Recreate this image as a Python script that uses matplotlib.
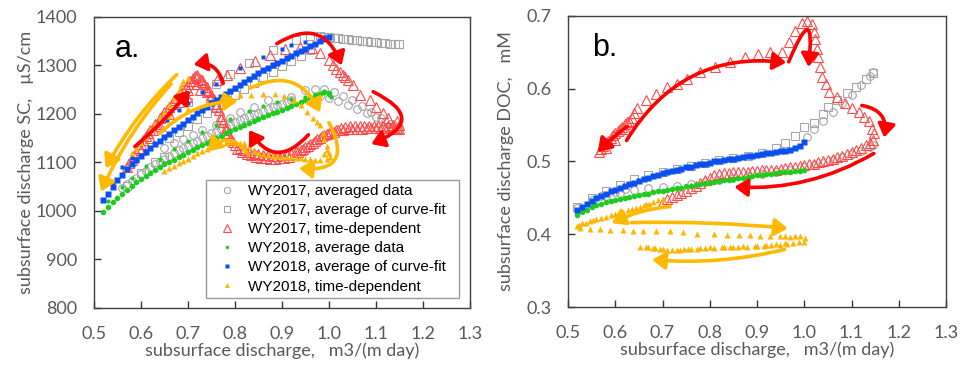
"""
Hysteresis of subsurface discharge vs SC (a) and DOC (b), WY2017 / WY2018.
"""
import matplotlib
matplotlib.use("Agg")
import matplotlib.pyplot as plt
from matplotlib.patches import FancyArrowPatch
from matplotlib.lines import Line2D

matplotlib.rcParams.update({
    "font.family": ["Lato", "DejaVu Sans"],
    "font.size": 12,
})

TXT = "#595959"
C_GRAY = "#A6A6A6"
C_RED = "#FF4B4B"
C_GREEN = "#1ECC1E"
C_BLUE = "#0A50F0"
C_ORANGE = "#FFB400"
A_RED = "#FF0000"
A_ORANGE = "#FFB900"

# ---------------------------------------------------------------------------
# Panel a data : discharge (m3/(m day)) vs SC (uS/cm)
# ---------------------------------------------------------------------------
a_q_grid = [0.52, 0.53, 0.54, 0.55, 0.56, 0.57, 0.58, 0.59, 0.60, 0.61, 0.62,
            0.63, 0.64, 0.65, 0.66, 0.67, 0.68, 0.69, 0.70, 0.71, 0.72, 0.73,
            0.74, 0.75, 0.76, 0.77, 0.78, 0.79, 0.80, 0.81, 0.82, 0.83, 0.84,
            0.85, 0.86, 0.87, 0.88, 0.89, 0.90, 0.91, 0.92, 0.93, 0.94, 0.95,
            0.96, 0.97, 0.98, 0.99, 1.00]

# WY2018 average data (green)
a_green_dense = [998, 1008, 1018, 1027, 1036, 1044, 1052, 1059, 1066, 1072, 1078,
                 1084, 1090, 1096, 1101, 1106, 1111, 1116, 1121, 1126, 1131, 1136,
                 1141, 1146, 1151, 1155, 1160, 1164, 1169, 1173, 1177, 1181, 1185,
                 1189, 1193, 1197, 1201, 1205, 1209, 1213, 1217, 1221, 1225, 1229,
                 1233, 1237, 1241, 1245, 1244]
a_green_sp_q = [0.53, 0.56, 0.58, 0.61, 0.64, 0.67, 0.70, 0.73, 0.76, 0.79, 0.83,
                0.86, 0.89, 0.92, 0.95, 0.97, 0.99, 1.0, 1.005]
a_green_sp_sc = [1020, 1050, 1068, 1092, 1108, 1128, 1145, 1162, 1178, 1190, 1206,
                 1216, 1224, 1230, 1236, 1242, 1248, 1240, 1236]

# WY2018 average of curve-fit (blue)
a_blue_dense = [1022, 1036, 1050, 1063, 1075, 1086, 1096, 1105, 1114, 1122, 1130,
                1138, 1145, 1152, 1159, 1166, 1173, 1180, 1187, 1194, 1201, 1208,
                1215, 1222, 1229, 1236, 1242, 1248, 1254, 1260, 1266, 1272, 1278,
                1284, 1290, 1295, 1300, 1305, 1310, 1315, 1320, 1325, 1330, 1335,
                1340, 1345, 1350, 1355, 1358]
a_blue_sp_q = [0.54, 0.56, 0.58, 0.60, 0.62, 0.655, 0.68, 0.70, 0.73, 0.76, 0.81,
               0.86, 0.90, 0.92, 0.95, 0.99]
a_blue_sp_sc = [1058, 1091, 1110, 1138, 1160, 1188, 1208, 1222, 1245, 1262, 1294,
                1318, 1335, 1342, 1348, 1358]

# WY2017 averaged data (gray circles)
a_circ_q = [0.56, 0.58, 0.60, 0.62, 0.64, 0.66, 0.68, 0.70, 0.72, 0.74, 0.76,
            0.78, 0.80, 0.82, 0.84, 0.86, 0.88, 0.90, 0.92,
            0.57, 0.59, 0.61, 0.63, 0.65, 0.67, 0.69, 0.71, 0.73, 0.75, 0.77,
            0.79, 0.81, 0.83, 0.85, 0.87, 0.89, 0.91,
            0.65, 0.67, 0.69, 0.71, 0.73, 0.76, 0.79, 0.81, 0.84, 0.87, 0.92,
            0.95, 0.97,
            0.99, 1.01, 1.03, 1.05, 1.07, 1.09, 1.11, 1.13, 1.15,
            0.98, 1.00, 1.02, 1.04, 1.06, 1.08, 1.10, 1.12, 1.14]
a_circ_sc = [1048, 1062, 1076, 1090, 1102, 1114, 1125, 1135, 1145, 1155, 1165,
             1174, 1183, 1191, 1199, 1207, 1214, 1221, 1228,
             1055, 1069, 1083, 1096, 1108, 1119, 1130, 1140, 1150, 1160, 1170,
             1178, 1187, 1195, 1203, 1211, 1218, 1224,
             1130, 1140, 1148, 1157, 1166, 1178, 1192, 1205, 1215, 1229, 1236,
             1250, 1252,
             1252, 1246, 1238, 1228, 1216, 1204, 1192, 1180, 1172,
             1238, 1232, 1226, 1218, 1210, 1202, 1193, 1184, 1176]

# WY2017 average of curve-fit (gray squares)
a_sq_q = [0.57, 0.60, 0.63, 0.65,
          0.66, 0.68, 0.70, 0.72, 0.74, 0.76, 0.78, 0.80, 0.82, 0.84, 0.86,
          0.88, 0.90, 0.92, 0.94, 0.96,
          0.70, 0.76, 0.79, 0.83, 0.88, 0.93, 0.96, 0.98,
          0.99, 1.00, 1.01, 1.02, 1.03, 1.04, 1.05, 1.06, 1.07, 1.08, 1.09,
          1.10, 1.11, 1.12, 1.13, 1.14, 1.15]
a_sq_sc = [1052, 1078, 1100, 1112,
           1150, 1163, 1176, 1189, 1202, 1215, 1228, 1240, 1252, 1264, 1276,
           1287, 1298, 1309, 1320, 1332,
           1225, 1262, 1282, 1305, 1332, 1352, 1360, 1360,
           1359, 1358, 1357, 1356, 1355, 1354, 1353, 1352, 1351, 1350, 1349,
           1348, 1347, 1346, 1345, 1345, 1344]

# WY2017 time-dependent (red triangles)
a_red_q = [0.57, 0.575, 0.58, 0.585, 0.59, 0.595, 0.60, 0.605, 0.61, 0.615, 0.62,
           0.63, 0.64, 0.65, 0.66, 0.67, 0.68, 0.69, 0.70, 0.705, 0.71, 0.715,
           0.72, 0.725, 0.73, 0.735, 0.74, 0.745, 0.75, 0.755, 0.76, 0.765,
           0.77, 0.775, 0.78, 0.785, 0.79, 0.795, 0.80, 0.81, 0.82, 0.83, 0.84,
           0.85, 0.86, 0.87, 0.88, 0.89, 0.90, 0.91, 0.92, 0.93, 0.94, 0.95,
           0.96, 0.97, 0.98, 0.99, 1.00, 1.01, 1.02, 1.03, 1.04, 1.05, 1.06,
           1.07, 1.08, 1.09, 1.10, 1.11, 1.12, 1.13, 1.14, 1.15, 1.15,
           0.60, 0.62, 0.64, 0.66, 0.68, 0.70, 0.72, 0.74,
           0.625, 0.635, 0.645, 0.655, 0.665, 0.675, 0.685, 0.695, 0.71, 0.72,
           0.73, 0.74, 0.75, 0.76, 0.77, 0.78, 0.79, 0.805, 0.815, 0.825, 0.835,
           0.845, 0.855, 0.865, 0.875, 0.885, 0.895, 0.905, 0.915, 0.925,
           0.935, 0.945, 0.955, 0.965, 0.975, 0.985, 0.995, 1.005, 1.015,
           1.025, 1.035, 1.045, 1.055, 1.065, 1.075, 1.085, 1.095, 1.105,
           1.115, 1.125, 1.135, 1.145,
           1.145, 1.137, 1.126, 1.116, 1.101, 1.087, 1.066, 1.052, 1.041, 1.035,
           1.03, 1.023, 1.016, 1.009, 0.999, 0.981, 0.963, 0.938, 0.906, 0.874,
           0.843, 0.81, 0.782, 0.761, 0.725, 0.697]
a_red_sc = [1090, 1098, 1106, 1114, 1122, 1130, 1138, 1146, 1154, 1160, 1168,
            1180, 1192, 1205, 1215, 1228, 1240, 1250, 1262, 1268, 1274, 1278,
            1276, 1272, 1270, 1262, 1255, 1248, 1240, 1230, 1220, 1208,
            1196, 1184, 1172, 1160, 1150, 1142, 1136, 1130, 1126, 1122, 1120,
            1118, 1116, 1115, 1114, 1114, 1115, 1116, 1118, 1121, 1126, 1131,
            1138, 1145, 1151, 1156, 1160, 1163, 1166, 1168, 1169, 1170, 1170,
            1170, 1171, 1171, 1172, 1172, 1172, 1171, 1170, 1170, 1178,
            1125, 1150, 1175, 1200, 1225, 1250, 1262, 1245,
            1168, 1180, 1194, 1208, 1220, 1232, 1244, 1256, 1268, 1280,
            1265, 1250, 1234, 1214, 1190, 1166, 1146, 1128, 1122, 1118, 1116,
            1112, 1110, 1109, 1108, 1108, 1109, 1110, 1112, 1116,
            1121, 1127, 1134, 1141, 1148, 1154, 1159, 1165, 1168,
            1172, 1174, 1175, 1175, 1176, 1176, 1176, 1176, 1176,
            1175, 1175, 1174, 1172,
            1186, 1177, 1191, 1201, 1215, 1229, 1239, 1260, 1270, 1276,
            1280, 1287, 1292, 1301, 1311, 1325, 1336, 1338, 1333, 1321,
            1309, 1294, 1280, 1271, 1249, 1236]

# WY2018 time-dependent (orange triangles)
a_org_q = [0.58, 0.59, 0.60, 0.61, 0.62, 0.63, 0.64, 0.65, 0.66, 0.67, 0.68,
           0.685, 0.69, 0.70,
           0.62, 0.66, 0.70, 0.74, 0.77, 0.81, 0.835, 0.86, 0.885, 0.905, 0.925,
           0.94, 0.953, 0.966, 0.975, 0.981, 0.987, 0.99, 0.995, 1.0, 1.002,
           0.995, 0.98, 0.96, 0.94, 0.92, 0.90, 0.88, 0.86, 0.84, 0.83, 0.82,
           0.80, 0.78, 0.76, 0.74, 0.72, 0.70, 0.68, 0.66, 0.65, 0.99, 0.995,
           0.97, 0.95, 0.93, 0.91, 0.89, 0.87, 0.85, 0.81, 0.79, 0.77, 0.75,
           0.73, 0.71, 0.69, 0.67]
a_org_sc = [1119, 1130, 1140, 1152, 1165, 1180, 1193, 1205, 1218, 1233, 1250,
            1260, 1268, 1275,
            1170, 1195, 1210, 1222, 1230, 1239, 1240, 1241, 1241, 1237, 1228,
            1219, 1205, 1191, 1183, 1177, 1160, 1148, 1133, 1120, 1112,
            1108, 1106, 1107, 1109, 1111, 1112, 1114, 1117, 1124, 1135, 1140,
            1142, 1141, 1136, 1128, 1120, 1108, 1098, 1088, 1082, 1118, 1125,
            1106, 1108, 1110, 1111, 1113, 1115, 1120, 1141, 1142, 1139, 1133,
            1124, 1114, 1103, 1093]

# arrows: x1, y1, x2, y2, connection style
a_red_arrows = [
    (0.775, 1263, 0.712, 1302, "arc3,rad=0.45"),
    (0.587, 1133, 0.704, 1249, "arc3,rad=0.05"),
    (0.889, 1345, 1.027, 1300, "arc3,rad=-0.6"),
    (1.094, 1246, 1.090, 1138, "arc3,rad=-1.1"),
    (0.956, 1157, 0.830, 1167, "arc3,rad=-0.65"),
]
a_org_arrows = [
    (0.676, 1281, 0.525, 1088, "arc3,rad=0.08"),
    (0.664, 1262, 0.515, 1040, "arc3,rad=0.08"),
    (0.640, 1160, 0.806, 1226, "arc3,rad=-0.2"),
    (0.832, 1253, 0.981, 1203, "arc3,rad=-0.5"),
    (1.000, 1182, 0.936, 1088, "arc3,rad=-0.9"),
    (0.828, 1116, 0.742, 1123, "arc3,rad=0.6"),
]

# ---------------------------------------------------------------------------
# Panel b data : discharge vs DOC (mM)
# ---------------------------------------------------------------------------
b_green_doc = [0.427, 0.431, 0.434, 0.437, 0.440, 0.442, 0.444, 0.446, 0.447,
               0.449, 0.450, 0.451, 0.453, 0.454, 0.455, 0.456, 0.458, 0.459,
               0.460, 0.461, 0.462, 0.463, 0.464, 0.466, 0.467, 0.468, 0.469,
               0.470, 0.471, 0.472, 0.473, 0.474, 0.475, 0.476, 0.477, 0.478,
               0.479, 0.480, 0.481, 0.482, 0.483, 0.483, 0.484, 0.485, 0.486,
               0.486, 0.487, 0.487, 0.488]
b_blue_doc = [0.433, 0.438, 0.442, 0.446, 0.450, 0.453, 0.456, 0.459, 0.461,
              0.464, 0.466, 0.469, 0.471, 0.473, 0.476, 0.478, 0.480, 0.482,
              0.484, 0.486, 0.487, 0.489, 0.490, 0.492, 0.493, 0.495, 0.496,
              0.497, 0.498, 0.500, 0.501, 0.502, 0.503, 0.504, 0.505, 0.506,
              0.507, 0.508, 0.509, 0.510, 0.511, 0.512, 0.513, 0.514, 0.515,
              0.516, 0.518, 0.521, 0.527]

b_circ_q = [0.52, 0.55, 0.57, 0.58, 0.60, 0.61, 0.62, 0.64, 0.67, 0.70, 0.73,
            0.76, 0.79, 0.82, 0.85, 0.88, 0.91, 0.94, 0.97, 1.00, 1.02, 1.04,
            1.06, 1.08, 1.10, 1.12, 1.14, 1.145,
            1.005, 1.02, 1.04, 1.06, 1.08, 1.10, 1.12, 1.14, 1.146]
b_circ_doc = [0.436, 0.447, 0.452, 0.452, 0.458, 0.457, 0.462, 0.461, 0.463,
              0.465, 0.467, 0.469, 0.472, 0.474, 0.477, 0.480, 0.483, 0.486,
              0.489, 0.492, 0.495, 0.498, 0.502, 0.506, 0.510, 0.515, 0.520,
              0.522,
              0.534, 0.545, 0.556, 0.568, 0.580, 0.592, 0.605, 0.618, 0.623]
b_sq_q = [0.52, 0.55, 0.58, 0.61, 0.64, 0.67, 0.70, 0.73, 0.76, 0.79, 0.82,
          0.85, 0.88, 0.91, 0.94, 0.96, 0.98, 1.00, 1.02, 1.04, 1.05, 1.07,
          1.09, 1.11, 1.13, 1.145]
b_sq_doc = [0.438, 0.450, 0.460, 0.468, 0.476, 0.482, 0.486, 0.490, 0.494,
            0.498, 0.502, 0.505, 0.508, 0.511, 0.518, 0.525, 0.535, 0.548,
            0.553, 0.565, 0.575, 0.585, 0.594, 0.603, 0.613, 0.622]

b_red_q = [0.565, 0.57, 0.575, 0.58, 0.585, 0.59, 0.595, 0.60, 0.605, 0.61,
           0.615, 0.62, 0.625, 0.63, 0.635, 0.64, 0.58, 0.60, 0.62,
           0.645, 0.666, 0.687, 0.709, 0.73, 0.751, 0.779, 0.811, 0.843, 0.875,
           0.903, 0.928, 0.953, 0.967, 0.981, 0.995, 1.006, 1.016, 1.02, 1.023,
           1.027, 1.03, 1.034, 1.037, 1.045, 1.052, 1.069, 1.087, 1.101, 1.115,
           1.126, 1.136, 1.143, 1.147, 1.145,
           1.14, 1.13, 1.12, 1.11, 1.10, 1.09, 1.08, 1.07, 1.06, 1.05, 1.04,
           1.03, 1.02, 1.01, 1.00, 0.99, 0.98, 0.97, 0.96, 0.95, 0.94, 0.93,
           0.92, 0.91, 0.90, 0.89, 0.88, 0.87, 0.86, 0.85, 0.84, 0.83, 0.82,
           0.81, 0.80, 0.79, 0.78, 0.77, 0.76, 0.75, 0.74, 0.73, 0.72, 0.71,
           0.70]
b_red_doc = [0.513, 0.517, 0.521, 0.525, 0.528, 0.532, 0.536, 0.539, 0.542,
             0.545, 0.548, 0.551, 0.554, 0.556, 0.560, 0.566, 0.519, 0.530,
             0.544,
             0.573, 0.584, 0.593, 0.602, 0.607, 0.614, 0.623, 0.630, 0.637,
             0.643, 0.648, 0.650, 0.651, 0.664, 0.680, 0.690, 0.693, 0.689,
             0.678, 0.669, 0.655, 0.644, 0.630, 0.616, 0.607, 0.596, 0.588,
             0.580, 0.574, 0.568, 0.561, 0.555, 0.545, 0.539, 0.529,
             0.525, 0.522, 0.519, 0.516, 0.513, 0.510, 0.508, 0.506, 0.504,
             0.502, 0.500, 0.499, 0.497, 0.496, 0.495, 0.494, 0.493, 0.492,
             0.491, 0.490, 0.489, 0.489, 0.488, 0.488, 0.487, 0.487, 0.486,
             0.486, 0.485, 0.485, 0.484, 0.484, 0.483, 0.481, 0.478, 0.474,
             0.470, 0.467, 0.463, 0.460, 0.457, 0.454, 0.451, 0.448, 0.445]

b_org_q = [0.518, 0.53, 0.546, 0.56, 0.581, 0.60, 0.617, 0.635, 0.652, 0.665,
           0.68, 0.69, 0.702, 0.524, 0.538, 0.553, 0.57, 0.59, 0.61, 0.626,
           0.644, 0.66, 0.672,
           0.525, 0.546, 0.567, 0.588, 0.617, 0.638, 0.659, 0.687, 0.716, 0.744,
           0.772, 0.808, 0.836, 0.861, 0.885, 0.907, 0.928, 0.949, 0.96, 0.97,
           0.98, 0.991, 1.002,
           0.999, 0.988, 0.977, 0.963, 0.949, 0.93, 0.914, 0.895, 0.878, 0.86,
           0.843, 0.825, 0.808, 0.79, 0.772, 0.755, 0.737, 0.72, 0.709, 0.695,
           0.68, 0.665, 0.652, 0.96, 0.94, 0.92, 0.90, 0.87, 0.85, 0.83, 0.80,
           0.78, 0.76, 0.745, 0.73, 0.70, 0.685, 0.67]
b_org_doc = [0.411, 0.415, 0.418, 0.421, 0.424, 0.428, 0.431, 0.435, 0.438,
             0.441, 0.445, 0.447, 0.449, 0.413, 0.416, 0.419, 0.423, 0.426,
             0.429, 0.433, 0.436, 0.440, 0.442,
             0.408, 0.407, 0.407, 0.406, 0.406, 0.405, 0.405, 0.405, 0.404,
             0.403, 0.401, 0.400, 0.399, 0.399, 0.399, 0.398, 0.397, 0.397,
             0.398, 0.396, 0.397, 0.397, 0.395,
             0.390, 0.389, 0.388, 0.387, 0.385, 0.385, 0.384, 0.384, 0.383,
             0.383, 0.382, 0.382, 0.381, 0.381, 0.380, 0.380, 0.379, 0.379,
             0.379, 0.380, 0.381, 0.382, 0.383, 0.388, 0.386, 0.385, 0.384,
             0.384, 0.383, 0.382, 0.382, 0.381, 0.380, 0.380, 0.379, 0.380,
             0.381, 0.382]

b_red_arrows = [
    (0.624, 0.529, 0.962, 0.636, "arc3,rad=-0.32"),
    (0.967, 0.637, 1.009, 0.630, "arc3,rad=-3.4"),
    (0.625, 0.548, 0.563, 0.513, "arc3,rad=0.05"),
    (1.122, 0.577, 1.169, 0.533, "arc3,rad=-0.5"),
    (1.147, 0.511, 0.852, 0.465, "arc3,rad=-0.15"),
]
b_org_arrows = [
    (0.716, 0.438, 0.593, 0.415, "arc3,rad=0.1"),
    (0.634, 0.416, 0.965, 0.408, "arc3,rad=-0.03"),
    (0.958, 0.379, 0.678, 0.365, "arc3,rad=-0.08"),
]

SERIES_STYLE = {
    "circ":  dict(marker="o", mfc="none", mec=C_GRAY, ms=5.5, mew=0.8),
    "sq":    dict(marker="s", mfc="none", mec=C_GRAY, ms=5.5, mew=0.8),
    "red":   dict(marker="^", mfc="none", mec=C_RED, ms=7, mew=0.8),
    "green": dict(marker="o", mfc=C_GREEN, mec="none", ms=3),
    "green_d": dict(marker="o", mfc=C_GREEN, mec="none", ms=4),
    "blue":  dict(marker="s", mfc=C_BLUE, mec="none", ms=3),
    "blue_d":  dict(marker="s", mfc=C_BLUE, mec="none", ms=4.2),
    "org":   dict(marker="^", mfc=C_ORANGE, mec="none", ms=4),
}


def draw_arrows(ax, arrows, color):
    for x1, y1, x2, y2, cs in arrows:
        ax.add_patch(FancyArrowPatch(
            (x1, y1), (x2, y2), connectionstyle=cs,
            arrowstyle="-|>,head_length=0.6,head_width=0.4",
            mutation_scale=13, color=color, lw=2.6, zorder=6,
            shrinkA=0, shrinkB=0))


def style_axes(ax, ylim, yticks, yfmt, ylabel, ylab_x):
    ax.set_xlim(0.5, 1.3)
    ax.set_ylim(*ylim)
    ax.set_xticks([0.5, 0.6, 0.7, 0.8, 0.9, 1.0, 1.1, 1.2, 1.3])
    ax.set_xticklabels(["0.5", "0.6", "0.7", "0.8", "0.9", "1.0", "1.1",
                        "1.2", "1.3"])
    ax.set_yticks(yticks)
    ax.set_yticklabels([yfmt.format(v) for v in yticks])
    ax.tick_params(direction="in", length=5, width=1, color="#333333",
                   labelcolor=TXT, labelsize=13)
    ax.tick_params(axis="x", pad=13)
    ax.tick_params(axis="y", pad=12)
    for sp in ax.spines.values():
        sp.set_color("#404040")
        sp.set_linewidth(1.0)
    ax.set_xlabel("subsurface discharge,   m3/(m day)", color=TXT,
                  fontsize=13, labelpad=0)
    ax.set_ylabel(ylabel, color=TXT, fontsize=13)
    ax.yaxis.set_label_coords(ylab_x, 0.5)


fig = plt.figure(figsize=(9.66, 3.66), dpi=100)
ax_a = fig.add_axes([0.0973, 0.1585, 0.3892, 0.7951])
ax_b = fig.add_axes([0.5880, 0.1612, 0.3913, 0.7951])

# ---- panel a ----
ax_a.plot(a_circ_q, a_circ_sc, ls="none", **SERIES_STYLE["circ"])
ax_a.plot(a_sq_q, a_sq_sc, ls="none", **SERIES_STYLE["sq"])
ax_a.plot(a_red_q, a_red_sc, ls="none", **SERIES_STYLE["red"])
ax_a.plot(a_q_grid, a_green_dense, ls="none", **SERIES_STYLE["green_d"])
ax_a.plot(a_green_sp_q, a_green_sp_sc, ls="none", **SERIES_STYLE["green"])
ax_a.plot(a_q_grid, a_blue_dense, ls="none", **SERIES_STYLE["blue_d"])
ax_a.plot(a_blue_sp_q, a_blue_sp_sc, ls="none", **SERIES_STYLE["blue"])
ax_a.plot(a_org_q, a_org_sc, ls="none", **SERIES_STYLE["org"])
draw_arrows(ax_a, a_red_arrows, A_RED)
draw_arrows(ax_a, a_org_arrows, A_ORANGE)
style_axes(ax_a, (800, 1400), [800, 900, 1000, 1100, 1200, 1300, 1400],
           "{:d}", "subsurface discharge SC,   µS/cm", -0.16)
ax_a.text(0.055, 0.94, "a.", transform=ax_a.transAxes, fontsize=22,
          va="top", family=["Liberation Sans", "DejaVu Sans"])

handles = [
    Line2D([], [], ls="none", marker="o", mfc="none", mec=C_GRAY, ms=4.5, mew=0.8),
    Line2D([], [], ls="none", marker="s", mfc="none", mec=C_GRAY, ms=4.5, mew=0.8),
    Line2D([], [], ls="none", marker="^", mfc="none", mec=C_RED, ms=5.5, mew=0.8),
    Line2D([], [], ls="none", marker="o", mfc=C_GREEN, mec="none", ms=2.5),
    Line2D([], [], ls="none", marker="s", mfc=C_BLUE, mec="none", ms=2.5),
    Line2D([], [], ls="none", marker="^", mfc=C_ORANGE, mec="none", ms=3.5),
]
labels = ["WY2017, averaged data  ", "WY2017, average of curve-fit  ",
          "WY2017, time-dependent  ", "WY2018, average data  ",
          "WY2018, average of curve-fit  ", "WY2018, time-dependent  "]
leg = ax_a.legend(handles, labels, loc="lower right",
                  bbox_to_anchor=(0.971, 0.034), frameon=True, fancybox=False,
                  edgecolor="#999999", framealpha=1, borderpad=0.3,
                  labelspacing=0.33, handlelength=2.2, handletextpad=0.25,
                  borderaxespad=0,
                  prop={"family": ["Liberation Sans", "DejaVu Sans"],
                        "size": 11})
leg.get_frame().set_linewidth(1.0)

# ---- panel b ----
ax_b.plot(b_circ_q, b_circ_doc, ls="none", **SERIES_STYLE["circ"])
ax_b.plot(b_sq_q, b_sq_doc, ls="none", **SERIES_STYLE["sq"])
ax_b.plot(b_red_q, b_red_doc, ls="none", **SERIES_STYLE["red"])
ax_b.plot(a_q_grid, b_green_doc, ls="none", **SERIES_STYLE["green_d"])
ax_b.plot(a_q_grid, b_blue_doc, ls="none", **SERIES_STYLE["blue_d"])
ax_b.plot(b_org_q, b_org_doc, ls="none", **SERIES_STYLE["org"])
draw_arrows(ax_b, b_red_arrows, A_RED)
draw_arrows(ax_b, b_org_arrows, A_ORANGE)
style_axes(ax_b, (0.3, 0.7), [0.3, 0.4, 0.5, 0.6, 0.7], "{:.1f}",
           "subsurface discharge DOC,   mM", -0.143)
ax_b.text(0.065, 0.94, "b.", transform=ax_b.transAxes, fontsize=22,
          va="top", family=["Liberation Sans", "DejaVu Sans"])

fig.savefig("out.png", dpi=100)
